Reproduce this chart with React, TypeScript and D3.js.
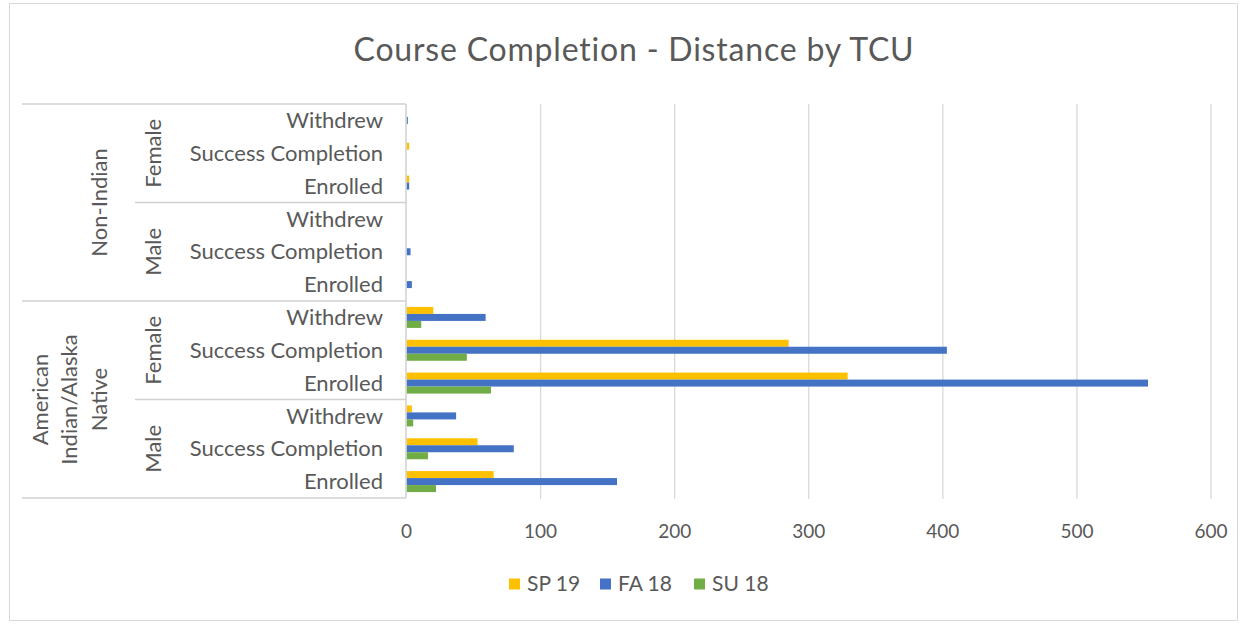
import React, { useEffect, useRef } from 'react';
import * as d3 from 'd3';

// rows from top to bottom
const ethnicities = ['Non-Indian', 'American Indian/Alaska Native'];
const genders = ['Female', 'Male'];
const statuses = ['Withdrew', 'Success Completion', 'Enrolled'];

const seriesNames = ['SP 19', 'FA 18', 'SU 18'];
const sp19 = [0, 2, 2, 0, 0, 0, 20, 285, 329, 4, 53, 65];
const fa18 = [1, 0, 2, 0, 3, 4, 59, 403, 553, 37, 80, 157];
const su18 = [0, 0, 0, 0, 0, 0, 11, 45, 63, 5, 16, 22];
const xTicks = [0, 100, 200, 300, 400, 500, 600];

const colors = ['#FFC000', '#4472C4', '#70AD47'];

export default function App() {
  const ref = useRef<SVGSVGElement>(null);

  useEffect(() => {
    if (!ref.current) return;
    const svg = d3.select(ref.current);
    svg.selectAll('*').remove();

    const font = 'Lato, "Open Sans", sans-serif';
    const textColor = '#595959';
    const lineColor = '#d0d0d0';

    // outer frame
    svg.append('rect')
      .attr('x', 9.5).attr('y', 3.5)
      .attr('width', 1228).attr('height', 617)
      .attr('fill', '#fff').attr('stroke', '#d9d9d9');

    svg.append('text')
      .attr('x', 634).attr('y', 61)
      .attr('text-anchor', 'middle')
      .attr('font-family', font).attr('font-size', 32)
      .attr('letter-spacing', 0.8)
      .attr('fill', textColor)
      .text('Course Completion - Distance by TCU');

    // rows
    const rows: { key: string; eth: string; gender: string; status: string }[] = [];
    ethnicities.forEach(e => genders.forEach(g => statuses.forEach(s =>
      rows.push({ key: `${e}|${g}|${s}`, eth: e, gender: g, status: s }))));

    const top = 104, bottom = 498;
    const x = d3.scaleLinear().domain([0, 600]).range([406.5, 1211]);
    const y = d3.scaleBand().domain(rows.map(r => r.key)).range([top, bottom]).paddingInner(0.36).paddingOuter(0.18);
    const ySub = d3.scaleBand().domain(seriesNames).range([0, y.bandwidth()]);

    // gridlines
    svg.append('g').selectAll('line').data(xTicks.slice(1)).enter().append('line')
      .attr('x1', d => x(d)).attr('x2', d => x(d))
      .attr('y1', top).attr('y2', bottom + 1)
      .attr('stroke', '#d9d9d9').attr('stroke-width', 1.3);

    // tick labels
    svg.append('g').selectAll('text').data(xTicks).enter().append('text')
      .attr('x', d => x(d)).attr('y', 538)
      .attr('text-anchor', 'middle')
      .attr('font-family', font).attr('font-size', 19)
      .attr('fill', textColor)
      .text(d => d);

    // bars
    const series = [sp19, fa18, su18];
    series.forEach((vals, i) => {
      svg.append('g').selectAll('rect').data(rows).enter().append('rect')
        .attr('x', x(0))
        .attr('y', r => (y(r.key) as number) + (ySub(seriesNames[i]) as number))
        .attr('width', (_, j) => x(vals[j]) - x(0))
        .attr('height', ySub.bandwidth())
        .attr('fill', colors[i]);
    });

    // category axis
    const step = y.step();
    const axis = svg.append('g').attr('stroke', lineColor).attr('stroke-width', 1.5);
    axis.append('line').attr('x1', 406).attr('x2', 406).attr('y1', top).attr('y2', bottom);
    [0, 6, 12].forEach(i => {
      axis.append('line').attr('x1', 22).attr('x2', 406)
        .attr('y1', top + i * step).attr('y2', top + i * step);
    });
    [3, 9].forEach(i => {
      axis.append('line').attr('x1', 135).attr('x2', 406)
        .attr('y1', top + i * step).attr('y2', top + i * step);
    });

    svg.append('g').selectAll('text').data(rows).enter().append('text')
      .attr('x', 383)
      .attr('y', r => (y(r.key) as number) + y.bandwidth() / 2)
      .attr('dy', '0.35em')
      .attr('text-anchor', 'end')
      .attr('font-family', font).attr('font-size', 22)
      .attr('fill', textColor)
      .text(r => r.status);

    ethnicities.forEach((e, ei) => {
      genders.forEach((g, gi) => {
        const cy = top + (ei * 6 + gi * 3 + 1.5) * step;
        svg.append('text')
          .attr('transform', `translate(153,${cy}) rotate(-90)`)
          .attr('dy', '0.35em')
          .attr('text-anchor', 'middle')
          .attr('font-family', font).attr('font-size', 22)
          .attr('fill', textColor)
          .text(g);
      });
      const cy = top + (ei * 6 + 3) * step;
      const lines = ei === 0 ? [e] : ['American', 'Indian/Alaska', 'Native'];
      lines.forEach((ln, li) => {
        const cx = 99 - (lines.length - 1 - li) * 29.5;
        svg.append('text')
          .attr('transform', `translate(${cx},${cy}) rotate(-90)`)
          .attr('dy', '0.35em')
          .attr('text-anchor', 'middle')
          .attr('font-family', font).attr('font-size', 22)
          .attr('fill', textColor)
          .text(ln);
      });
    });

    // legend
    const legendX = [509, 600, 694];
    seriesNames.forEach((s, i) => {
      const lg = svg.append('g').attr('transform', `translate(${legendX[i]},584)`);
      lg.append('rect').attr('x', 0).attr('y', -5.5).attr('width', 11).attr('height', 11).attr('fill', colors[i]);
      lg.append('text').attr('x', 18).attr('y', 0).attr('dy', '0.35em')
        .attr('font-family', font).attr('font-size', 21)
        .attr('fill', textColor)
        .text(s);
    });
  }, []);

  return (
    <svg
      ref={ref}
      width={1244}
      height={624}
      style={{ position: 'absolute', left: 0, top: 0, background: '#fff' }}
    />
  );
}
